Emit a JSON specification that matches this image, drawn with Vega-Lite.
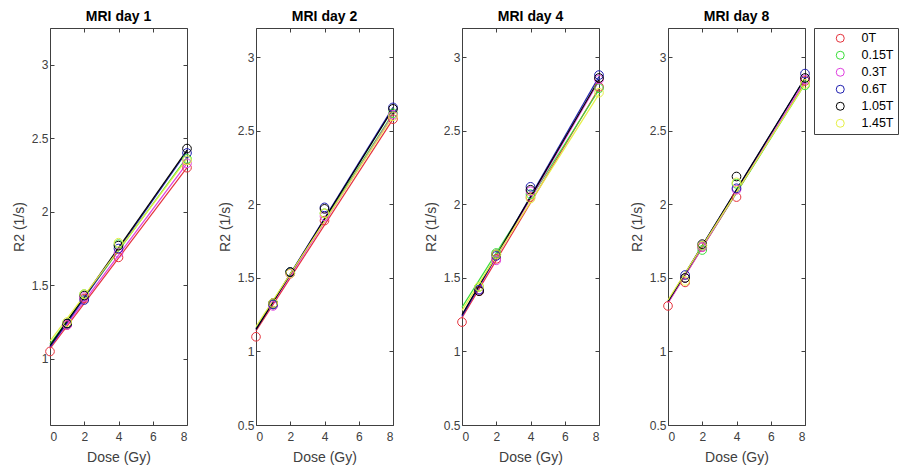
{
  "$schema": "https://vega.github.io/schema/vega-lite/v6.json",
  "background": "white",
  "padding": {"left": 11, "top": 9, "right": 0, "bottom": 0},
  "spacing": 69,
  "bounds": "flush",
  "datasets": {
    "points": [
      {"day": "MRI day 1", "field": "0T", "dose": 0, "r2": 1.05},
      {"day": "MRI day 1", "field": "0T", "dose": 1, "r2": 1.23},
      {"day": "MRI day 1", "field": "0T", "dose": 2, "r2": 1.41},
      {"day": "MRI day 1", "field": "0T", "dose": 4, "r2": 1.69},
      {"day": "MRI day 1", "field": "0T", "dose": 8, "r2": 2.30},
      {"day": "MRI day 1", "field": "0.15T", "dose": 1, "r2": 1.24},
      {"day": "MRI day 1", "field": "0.15T", "dose": 2, "r2": 1.44},
      {"day": "MRI day 1", "field": "0.15T", "dose": 4, "r2": 1.78},
      {"day": "MRI day 1", "field": "0.15T", "dose": 8, "r2": 2.36},
      {"day": "MRI day 1", "field": "0.3T", "dose": 1, "r2": 1.23},
      {"day": "MRI day 1", "field": "0.3T", "dose": 2, "r2": 1.42},
      {"day": "MRI day 1", "field": "0.3T", "dose": 4, "r2": 1.72},
      {"day": "MRI day 1", "field": "0.3T", "dose": 8, "r2": 2.33},
      {"day": "MRI day 1", "field": "0.6T", "dose": 1, "r2": 1.24},
      {"day": "MRI day 1", "field": "0.6T", "dose": 2, "r2": 1.40},
      {"day": "MRI day 1", "field": "0.6T", "dose": 4, "r2": 1.75},
      {"day": "MRI day 1", "field": "0.6T", "dose": 8, "r2": 2.40},
      {"day": "MRI day 1", "field": "1.05T", "dose": 1, "r2": 1.24},
      {"day": "MRI day 1", "field": "1.05T", "dose": 2, "r2": 1.43},
      {"day": "MRI day 1", "field": "1.05T", "dose": 4, "r2": 1.77},
      {"day": "MRI day 1", "field": "1.05T", "dose": 8, "r2": 2.43},
      {"day": "MRI day 1", "field": "1.45T", "dose": 1, "r2": 1.25},
      {"day": "MRI day 1", "field": "1.45T", "dose": 2, "r2": 1.44},
      {"day": "MRI day 1", "field": "1.45T", "dose": 4, "r2": 1.79},
      {"day": "MRI day 1", "field": "1.45T", "dose": 8, "r2": 2.35},

      {"day": "MRI day 2", "field": "0T", "dose": 0, "r2": 1.10},
      {"day": "MRI day 2", "field": "0T", "dose": 1, "r2": 1.32},
      {"day": "MRI day 2", "field": "0T", "dose": 2, "r2": 1.53},
      {"day": "MRI day 2", "field": "0T", "dose": 4, "r2": 1.89},
      {"day": "MRI day 2", "field": "0T", "dose": 8, "r2": 2.58},
      {"day": "MRI day 2", "field": "0.15T", "dose": 1, "r2": 1.32},
      {"day": "MRI day 2", "field": "0.15T", "dose": 2, "r2": 1.54},
      {"day": "MRI day 2", "field": "0.15T", "dose": 4, "r2": 1.94},
      {"day": "MRI day 2", "field": "0.15T", "dose": 8, "r2": 2.62},
      {"day": "MRI day 2", "field": "0.3T", "dose": 1, "r2": 1.31},
      {"day": "MRI day 2", "field": "0.3T", "dose": 2, "r2": 1.53},
      {"day": "MRI day 2", "field": "0.3T", "dose": 4, "r2": 1.92},
      {"day": "MRI day 2", "field": "0.3T", "dose": 8, "r2": 2.61},
      {"day": "MRI day 2", "field": "0.6T", "dose": 1, "r2": 1.32},
      {"day": "MRI day 2", "field": "0.6T", "dose": 2, "r2": 1.54},
      {"day": "MRI day 2", "field": "0.6T", "dose": 4, "r2": 1.98},
      {"day": "MRI day 2", "field": "0.6T", "dose": 8, "r2": 2.66},
      {"day": "MRI day 2", "field": "1.05T", "dose": 1, "r2": 1.33},
      {"day": "MRI day 2", "field": "1.05T", "dose": 2, "r2": 1.54},
      {"day": "MRI day 2", "field": "1.05T", "dose": 4, "r2": 1.97},
      {"day": "MRI day 2", "field": "1.05T", "dose": 8, "r2": 2.65},
      {"day": "MRI day 2", "field": "1.45T", "dose": 1, "r2": 1.33},
      {"day": "MRI day 2", "field": "1.45T", "dose": 2, "r2": 1.53},
      {"day": "MRI day 2", "field": "1.45T", "dose": 4, "r2": 1.94},
      {"day": "MRI day 2", "field": "1.45T", "dose": 8, "r2": 2.60},

      {"day": "MRI day 4", "field": "0T", "dose": 0, "r2": 1.20},
      {"day": "MRI day 4", "field": "0T", "dose": 1, "r2": 1.41},
      {"day": "MRI day 4", "field": "0T", "dose": 2, "r2": 1.63},
      {"day": "MRI day 4", "field": "0T", "dose": 4, "r2": 2.05},
      {"day": "MRI day 4", "field": "0T", "dose": 8, "r2": 2.80},
      {"day": "MRI day 4", "field": "0.15T", "dose": 1, "r2": 1.44},
      {"day": "MRI day 4", "field": "0.15T", "dose": 2, "r2": 1.67},
      {"day": "MRI day 4", "field": "0.15T", "dose": 4, "r2": 2.07},
      {"day": "MRI day 4", "field": "0.15T", "dose": 8, "r2": 2.79},
      {"day": "MRI day 4", "field": "0.3T", "dose": 1, "r2": 1.42},
      {"day": "MRI day 4", "field": "0.3T", "dose": 2, "r2": 1.62},
      {"day": "MRI day 4", "field": "0.3T", "dose": 4, "r2": 2.09},
      {"day": "MRI day 4", "field": "0.3T", "dose": 8, "r2": 2.85},
      {"day": "MRI day 4", "field": "0.6T", "dose": 1, "r2": 1.42},
      {"day": "MRI day 4", "field": "0.6T", "dose": 2, "r2": 1.65},
      {"day": "MRI day 4", "field": "0.6T", "dose": 4, "r2": 2.12},
      {"day": "MRI day 4", "field": "0.6T", "dose": 8, "r2": 2.88},
      {"day": "MRI day 4", "field": "1.05T", "dose": 1, "r2": 1.41},
      {"day": "MRI day 4", "field": "1.05T", "dose": 2, "r2": 1.66},
      {"day": "MRI day 4", "field": "1.05T", "dose": 4, "r2": 2.10},
      {"day": "MRI day 4", "field": "1.05T", "dose": 8, "r2": 2.86},
      {"day": "MRI day 4", "field": "1.45T", "dose": 1, "r2": 1.44},
      {"day": "MRI day 4", "field": "1.45T", "dose": 2, "r2": 1.66},
      {"day": "MRI day 4", "field": "1.45T", "dose": 4, "r2": 2.04},
      {"day": "MRI day 4", "field": "1.45T", "dose": 8, "r2": 2.76},

      {"day": "MRI day 8", "field": "0T", "dose": 0, "r2": 1.31},
      {"day": "MRI day 8", "field": "0T", "dose": 1, "r2": 1.47},
      {"day": "MRI day 8", "field": "0T", "dose": 2, "r2": 1.71},
      {"day": "MRI day 8", "field": "0T", "dose": 4, "r2": 2.05},
      {"day": "MRI day 8", "field": "0T", "dose": 8, "r2": 2.84},
      {"day": "MRI day 8", "field": "0.15T", "dose": 1, "r2": 1.50},
      {"day": "MRI day 8", "field": "0.15T", "dose": 2, "r2": 1.69},
      {"day": "MRI day 8", "field": "0.15T", "dose": 4, "r2": 2.14},
      {"day": "MRI day 8", "field": "0.15T", "dose": 8, "r2": 2.81},
      {"day": "MRI day 8", "field": "0.3T", "dose": 1, "r2": 1.50},
      {"day": "MRI day 8", "field": "0.3T", "dose": 2, "r2": 1.71},
      {"day": "MRI day 8", "field": "0.3T", "dose": 4, "r2": 2.10},
      {"day": "MRI day 8", "field": "0.3T", "dose": 8, "r2": 2.85},
      {"day": "MRI day 8", "field": "0.6T", "dose": 1, "r2": 1.52},
      {"day": "MRI day 8", "field": "0.6T", "dose": 2, "r2": 1.72},
      {"day": "MRI day 8", "field": "0.6T", "dose": 4, "r2": 2.11},
      {"day": "MRI day 8", "field": "0.6T", "dose": 8, "r2": 2.89},
      {"day": "MRI day 8", "field": "1.05T", "dose": 1, "r2": 1.50},
      {"day": "MRI day 8", "field": "1.05T", "dose": 2, "r2": 1.73},
      {"day": "MRI day 8", "field": "1.05T", "dose": 4, "r2": 2.19},
      {"day": "MRI day 8", "field": "1.05T", "dose": 8, "r2": 2.86},
      {"day": "MRI day 8", "field": "1.45T", "dose": 1, "r2": 1.48},
      {"day": "MRI day 8", "field": "1.45T", "dose": 2, "r2": 1.72},
      {"day": "MRI day 8", "field": "1.45T", "dose": 4, "r2": 2.15},
      {"day": "MRI day 8", "field": "1.45T", "dose": 8, "r2": 2.82}
    ],
    "fits": [
      {"day": "MRI day 1", "field": "0T", "dose": 0, "r2": 1.07},
      {"day": "MRI day 1", "field": "0T", "dose": 8, "r2": 2.30},
      {"day": "MRI day 1", "field": "0.15T", "dose": 0, "r2": 1.10},
      {"day": "MRI day 1", "field": "0.15T", "dose": 8, "r2": 2.37},
      {"day": "MRI day 1", "field": "0.3T", "dose": 0, "r2": 1.08},
      {"day": "MRI day 1", "field": "0.3T", "dose": 8, "r2": 2.33},
      {"day": "MRI day 1", "field": "0.6T", "dose": 0, "r2": 1.08},
      {"day": "MRI day 1", "field": "0.6T", "dose": 8, "r2": 2.41},
      {"day": "MRI day 1", "field": "1.05T", "dose": 0, "r2": 1.09},
      {"day": "MRI day 1", "field": "1.05T", "dose": 8, "r2": 2.42},
      {"day": "MRI day 1", "field": "1.45T", "dose": 0, "r2": 1.12},
      {"day": "MRI day 1", "field": "1.45T", "dose": 8, "r2": 2.36},

      {"day": "MRI day 2", "field": "0T", "dose": 0, "r2": 1.14},
      {"day": "MRI day 2", "field": "0T", "dose": 8, "r2": 2.58},
      {"day": "MRI day 2", "field": "0.15T", "dose": 0, "r2": 1.16},
      {"day": "MRI day 2", "field": "0.15T", "dose": 8, "r2": 2.62},
      {"day": "MRI day 2", "field": "0.3T", "dose": 0, "r2": 1.15},
      {"day": "MRI day 2", "field": "0.3T", "dose": 8, "r2": 2.61},
      {"day": "MRI day 2", "field": "0.6T", "dose": 0, "r2": 1.15},
      {"day": "MRI day 2", "field": "0.6T", "dose": 8, "r2": 2.66},
      {"day": "MRI day 2", "field": "1.05T", "dose": 0, "r2": 1.15},
      {"day": "MRI day 2", "field": "1.05T", "dose": 8, "r2": 2.65},
      {"day": "MRI day 2", "field": "1.45T", "dose": 0, "r2": 1.17},
      {"day": "MRI day 2", "field": "1.45T", "dose": 8, "r2": 2.60},

      {"day": "MRI day 4", "field": "0T", "dose": 0, "r2": 1.23},
      {"day": "MRI day 4", "field": "0T", "dose": 8, "r2": 2.79},
      {"day": "MRI day 4", "field": "0.15T", "dose": 0, "r2": 1.30},
      {"day": "MRI day 4", "field": "0.15T", "dose": 8, "r2": 2.78},
      {"day": "MRI day 4", "field": "0.3T", "dose": 0, "r2": 1.24},
      {"day": "MRI day 4", "field": "0.3T", "dose": 8, "r2": 2.84},
      {"day": "MRI day 4", "field": "0.6T", "dose": 0, "r2": 1.24},
      {"day": "MRI day 4", "field": "0.6T", "dose": 8, "r2": 2.87},
      {"day": "MRI day 4", "field": "1.05T", "dose": 0, "r2": 1.25},
      {"day": "MRI day 4", "field": "1.05T", "dose": 8, "r2": 2.85},
      {"day": "MRI day 4", "field": "1.45T", "dose": 0, "r2": 1.28},
      {"day": "MRI day 4", "field": "1.45T", "dose": 8, "r2": 2.75},

      {"day": "MRI day 8", "field": "0T", "dose": 0, "r2": 1.33},
      {"day": "MRI day 8", "field": "0T", "dose": 8, "r2": 2.83},
      {"day": "MRI day 8", "field": "0.15T", "dose": 0, "r2": 1.34},
      {"day": "MRI day 8", "field": "0.15T", "dose": 8, "r2": 2.82},
      {"day": "MRI day 8", "field": "0.3T", "dose": 0, "r2": 1.33},
      {"day": "MRI day 8", "field": "0.3T", "dose": 8, "r2": 2.84},
      {"day": "MRI day 8", "field": "0.6T", "dose": 0, "r2": 1.34},
      {"day": "MRI day 8", "field": "0.6T", "dose": 8, "r2": 2.86},
      {"day": "MRI day 8", "field": "1.05T", "dose": 0, "r2": 1.34},
      {"day": "MRI day 8", "field": "1.05T", "dose": 8, "r2": 2.86},
      {"day": "MRI day 8", "field": "1.45T", "dose": 0, "r2": 1.35},
      {"day": "MRI day 8", "field": "1.45T", "dose": 8, "r2": 2.82}
    ]
  },
  "hconcat": [
    {
      "title": "MRI day 1",
      "width": 137, "height": 397,
      "layer": [
        {
          "data": {"name": "fits"},
          "transform": [{"filter": "datum.day == 'MRI day 1'"}],
          "mark": {"type": "line", "strokeWidth": 1.2, "clip": false},
          "encoding": {
            "x": {"field": "dose", "type": "quantitative", "scale": {"domain": [0, 8], "nice": false, "zero": false}, "axis": {"orient": "bottom", "values": [0, 2, 4, 6, 8], "title": "Dose (Gy)"}},
            "y": {"field": "r2", "type": "quantitative", "scale": {"domain": [0.55, 3.25], "nice": false, "zero": false}, "axis": {"orient": "left", "values": [1, 1.5, 2, 2.5, 3], "title": "R2 (1/s)"}},
            "color": {"field": "field", "type": "nominal", "scale": {"domain": ["0T", "0.15T", "0.3T", "0.6T", "1.05T", "1.45T"], "range": ["#e5323c", "#3ade3a", "#df3fdf", "#1f1fb0", "#000000", "#e6f046"]}}
          }
        },
        {
          "data": {"name": "points"},
          "transform": [{"filter": "datum.day == 'MRI day 1'"}],
          "mark": {"type": "point", "shape": "circle", "filled": false, "size": 75, "strokeWidth": 1, "opacity": 1, "clip": false},
          "encoding": {
            "x": {"field": "dose", "type": "quantitative", "axis": {"orient": "top", "values": [0, 2, 4, 6, 8], "labels": false, "title": null}},
            "y": {"field": "r2", "type": "quantitative", "axis": {"orient": "right", "values": [1, 1.5, 2, 2.5, 3], "labels": false, "title": null}},
            "color": {"field": "field", "type": "nominal"}
          }
        }
      ]
    },
    {
      "title": "MRI day 2",
      "width": 137, "height": 397,
      "layer": [
        {
          "data": {"name": "fits"},
          "transform": [{"filter": "datum.day == 'MRI day 2'"}],
          "mark": {"type": "line", "strokeWidth": 1.2, "clip": false},
          "encoding": {
            "x": {"field": "dose", "type": "quantitative", "scale": {"domain": [0, 8], "nice": false, "zero": false}, "axis": {"orient": "bottom", "values": [0, 2, 4, 6, 8], "title": "Dose (Gy)"}},
            "y": {"field": "r2", "type": "quantitative", "scale": {"domain": [0.5, 3.2], "nice": false, "zero": false}, "axis": {"orient": "left", "values": [0.5, 1, 1.5, 2, 2.5, 3], "title": "R2 (1/s)"}},
            "color": {"field": "field", "type": "nominal"}
          }
        },
        {
          "data": {"name": "points"},
          "transform": [{"filter": "datum.day == 'MRI day 2'"}],
          "mark": {"type": "point", "shape": "circle", "filled": false, "size": 75, "strokeWidth": 1, "opacity": 1, "clip": false},
          "encoding": {
            "x": {"field": "dose", "type": "quantitative", "axis": {"orient": "top", "values": [0, 2, 4, 6, 8], "labels": false, "title": null}},
            "y": {"field": "r2", "type": "quantitative", "axis": {"orient": "right", "values": [0.5, 1, 1.5, 2, 2.5, 3], "labels": false, "title": null}},
            "color": {"field": "field", "type": "nominal"}
          }
        }
      ]
    },
    {
      "title": "MRI day 4",
      "width": 137, "height": 397,
      "layer": [
        {
          "data": {"name": "fits"},
          "transform": [{"filter": "datum.day == 'MRI day 4'"}],
          "mark": {"type": "line", "strokeWidth": 1.2, "clip": false},
          "encoding": {
            "x": {"field": "dose", "type": "quantitative", "scale": {"domain": [0, 8], "nice": false, "zero": false}, "axis": {"orient": "bottom", "values": [0, 2, 4, 6, 8], "title": "Dose (Gy)"}},
            "y": {"field": "r2", "type": "quantitative", "scale": {"domain": [0.5, 3.2], "nice": false, "zero": false}, "axis": {"orient": "left", "values": [0.5, 1, 1.5, 2, 2.5, 3], "title": "R2 (1/s)"}},
            "color": {"field": "field", "type": "nominal"}
          }
        },
        {
          "data": {"name": "points"},
          "transform": [{"filter": "datum.day == 'MRI day 4'"}],
          "mark": {"type": "point", "shape": "circle", "filled": false, "size": 75, "strokeWidth": 1, "opacity": 1, "clip": false},
          "encoding": {
            "x": {"field": "dose", "type": "quantitative", "axis": {"orient": "top", "values": [0, 2, 4, 6, 8], "labels": false, "title": null}},
            "y": {"field": "r2", "type": "quantitative", "axis": {"orient": "right", "values": [0.5, 1, 1.5, 2, 2.5, 3], "labels": false, "title": null}},
            "color": {"field": "field", "type": "nominal"}
          }
        }
      ]
    },
    {
      "title": "MRI day 8",
      "width": 137, "height": 397,
      "layer": [
        {
          "data": {"name": "fits"},
          "transform": [{"filter": "datum.day == 'MRI day 8'"}],
          "mark": {"type": "line", "strokeWidth": 1.2, "clip": false},
          "encoding": {
            "x": {"field": "dose", "type": "quantitative", "scale": {"domain": [0, 8], "nice": false, "zero": false}, "axis": {"orient": "bottom", "values": [0, 2, 4, 6, 8], "title": "Dose (Gy)"}},
            "y": {"field": "r2", "type": "quantitative", "scale": {"domain": [0.5, 3.2], "nice": false, "zero": false}, "axis": {"orient": "left", "values": [0.5, 1, 1.5, 2, 2.5, 3], "title": "R2 (1/s)"}},
            "color": {"field": "field", "type": "nominal"}
          }
        },
        {
          "data": {"name": "points"},
          "transform": [{"filter": "datum.day == 'MRI day 8'"}],
          "mark": {"type": "point", "shape": "circle", "filled": false, "size": 75, "strokeWidth": 1, "opacity": 1, "clip": false},
          "encoding": {
            "x": {"field": "dose", "type": "quantitative", "axis": {"orient": "top", "values": [0, 2, 4, 6, 8], "labels": false, "title": null}},
            "y": {"field": "r2", "type": "quantitative", "axis": {"orient": "right", "values": [0.5, 1, 1.5, 2, 2.5, 3], "labels": false, "title": null}},
            "color": {"field": "field", "type": "nominal", "legend": {"orient": "none", "legendX": 764, "legendY": 0, "symbolType": "circle", "symbolFillColor": "transparent", "title": " ", "titleOrient": "left", "titlePadding": 16, "titleFontSize": 12}}
          }
        }
      ]
    }
  ],
  "config": {
    "font": "Liberation Sans",
    "view": {"stroke": "#404040", "strokeWidth": 1},
    "title": {"fontSize": 14, "fontWeight": "bold", "color": "#000000", "offset": 4, "font": "Liberation Sans"},
    "axis": {
      "domain": false,
      "grid": false,
      "tickSize": -4,
      "tickColor": "#404040",
      "labelFontSize": 12,
      "labelColor": "#404040",
      "labelPadding": 6,
      "titleFontSize": 14,
      "titleFontWeight": "normal",
      "titleColor": "#404040",
      "labelFont": "Liberation Sans",
      "titleFont": "Liberation Sans",
      "format": "~g"
    },
    "axisX": {"titlePadding": 8, "labelPadding": 10},
    "axisY": {"titlePadding": 5, "labelFlush": false},
    "legend": {
      "strokeColor": "#404040",
      "padding": 4,
      "symbolType": "circle",
      "symbolSize": 64,
      "symbolStrokeWidth": 1,
      "labelFontSize": 12.5,
      "labelColor": "#000000",
      "labelOffset": 15,
      "rowPadding": 4,
      "fillColor": "white"
    }
  }
}
